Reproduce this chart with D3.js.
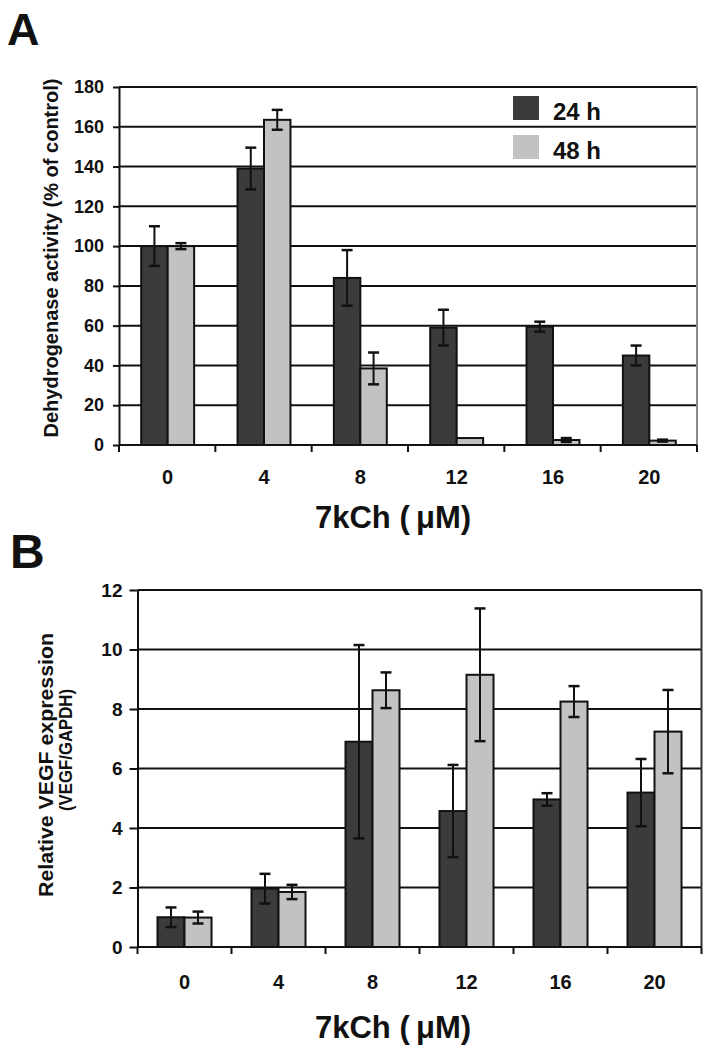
<!DOCTYPE html>
<html>
<head>
<meta charset="utf-8">
<script src="https://cdn.jsdelivr.net/npm/d3@7/dist/d3.min.js"></script>
<style>
  html, body { margin: 0; padding: 0; background: #fff; }
  svg { display: block; }
  text { font-family: "Liberation Sans", Arial, sans-serif; font-weight: bold; fill: #111; }
</style>
</head>
<body>
<svg id="chart" width="713" height="1050"></svg>
<script>
// ---------- data ----------
const categories = ["0", "4", "8", "12", "16", "20"];
const seriesNames = ["24 h", "48 h"];

// Panel A: dehydrogenase activity (% of control)
const activity24 = [100, 139, 84, 59, 59.5, 45];
const activity48 = [100, 163.5, 38.5, 3.5, 2.5, 2.2];
const activityErr24 = [10, 10.5, 14, 9, 2.5, 5];
const activityErr48 = [1.5, 5, 8, 0, 1, 0.5];
const activityTicks = [0, 20, 40, 60, 80, 100, 120, 140, 160, 180];

// Panel B: relative VEGF expression (VEGF/GAPDH)
const vegf24 = [1.0, 1.96, 6.9, 4.57, 4.96, 5.19];
const vegf48 = [0.99, 1.85, 8.63, 9.15, 8.25, 7.24];
const vegfErr24 = [0.33, 0.5, 3.25, 1.55, 0.21, 1.13];
const vegfErr48 = [0.2, 0.24, 0.6, 2.23, 0.52, 1.4];
const vegfTicks = [0, 2, 4, 6, 8, 10, 12];

const xTitle = "7kCh (\u2009\u03bcM)";
const colors = ["#3b3b3b", "#c2c2c2"];

const svg = d3.select("#chart");

function panel(opts) {
  const g = svg.append("g");
  const x0 = d3.scaleBand().domain(categories).range([opts.left, opts.right]).padding(0);
  const x1 = d3.scaleBand().domain(seriesNames).range([0, x0.bandwidth()]).paddingInner(0).paddingOuter(opts.outer);
  const y = d3.scaleLinear().domain([0, opts.ymax]).range([opts.bottom, opts.top]);

  // gridlines
  g.append("g").selectAll("line").data(opts.ticks.filter(t => t > 0)).join("line")
    .attr("x1", opts.left).attr("x2", opts.right)
    .attr("y1", d => y(d)).attr("y2", d => y(d))
    .attr("stroke", "#111").attr("stroke-width", 2);

  // right border
  g.append("line").attr("x1", opts.right).attr("x2", opts.right)
    .attr("y1", y(opts.ymax)).attr("y2", y(0))
    .attr("stroke", opts.borderColor).attr("stroke-width", 2);

  const rows = categories.map((c, i) => ({
    cat: c,
    vals: seriesNames.map((s, j) => ({ s, j, v: opts.values[j][i], e: opts.errors[j][i] }))
  }));

  // bars
  const grp = g.append("g").selectAll("g").data(rows).join("g")
    .attr("transform", d => `translate(${x0(d.cat) + opts.shift},0)`);
  grp.selectAll("rect").data(d => d.vals).join("rect")
    .attr("x", d => x1(d.s))
    .attr("width", x1.bandwidth())
    .attr("y", d => y(d.v))
    .attr("height", d => y(0) - y(d.v))
    .attr("fill", d => colors[d.j])
    .attr("stroke", "#111").attr("stroke-width", 2);

  // error bars
  const eb = grp.selectAll("g.err").data(d => d.vals.filter(v => v.e > 0)).join("g").attr("class", "err");
  const cx = d => x1(d.s) + x1.bandwidth() / 2;
  eb.append("line").attr("x1", cx).attr("x2", cx)
    .attr("y1", d => y(d.v + d.e)).attr("y2", d => y(d.v - d.e))
    .attr("stroke", "#111").attr("stroke-width", 2);
  eb.append("line").attr("x1", d => cx(d) - 5.5).attr("x2", d => cx(d) + 5.5)
    .attr("y1", d => y(d.v + d.e)).attr("y2", d => y(d.v + d.e))
    .attr("stroke", "#111").attr("stroke-width", 2.5);
  eb.append("line").attr("x1", d => cx(d) - 5.5).attr("x2", d => cx(d) + 5.5)
    .attr("y1", d => y(d.v - d.e)).attr("y2", d => y(d.v - d.e))
    .attr("stroke", "#111").attr("stroke-width", 2.5);

  // y axis
  const ya = g.append("g").attr("transform", `translate(${opts.left},0)`)
    .call(d3.axisLeft(y).tickValues(opts.ticks).tickSize(opts.ytick).tickPadding(opts.ypad).tickSizeOuter(0));
  ya.attr("font-size", null).attr("font-family", null);
  ya.select(".domain").attr("stroke", "#111").attr("stroke-width", 2);
  ya.selectAll(".tick line").attr("stroke", "#111").attr("stroke-width", 2);
  ya.selectAll(".tick text").style("font-size", opts.yFont + "px")
    .style("font-family", '"Liberation Sans", Arial, sans-serif').style("font-weight", "bold").attr("fill", "#111");

  // x axis line with boundary ticks
  g.append("line").attr("x1", opts.left).attr("x2", opts.right)
    .attr("y1", y(0)).attr("y2", y(0)).attr("stroke", "#111").attr("stroke-width", 2);
  const bounds = categories.map(c => x0(c)).concat([x0(categories[categories.length - 1]) + x0.bandwidth()]);
  g.append("g").selectAll("line").data(bounds).join("line")
    .attr("x1", d => d).attr("x2", d => d)
    .attr("y1", y(0)).attr("y2", y(0) + 7)
    .attr("stroke", "#111").attr("stroke-width", 2);

  // x labels
  g.append("g").selectAll("text").data(categories).join("text")
    .attr("x", d => x0(d) + x0.bandwidth() / 2 + opts.shift)
    .attr("y", opts.xLabelY)
    .attr("text-anchor", "middle")
    .style("font-size", opts.xFont + "px")
    .text(d => d);

  // x title
  g.append("text").attr("x", 393).attr("y", opts.xTitleY)
    .attr("text-anchor", "middle").style("font-size", "31px").text(xTitle);

  return { g, x0, x1, y };
}

// Panel A
const A = panel({
  left: 119, right: 697, top: 87, bottom: 445, ymax: 180, outer: 0.82, shift: 0.5,
  ticks: activityTicks, values: [activity24, activity48], errors: [activityErr24, activityErr48],
  borderColor: "#8a8a8a", ytick: 6, ypad: 9, yFont: 18, xFont: 20, xLabelY: 484, xTitleY: 528
});

// Panel A legend
const leg = svg.append("g").selectAll("g").data(seriesNames).join("g")
  .attr("transform", (d, i) => `translate(513, ${96 + i * 39})`);
leg.append("rect").attr("width", 26).attr("height", 24).attr("fill", (d, i) => colors[i]);
leg.append("text").attr("x", 40).attr("y", 24).style("font-size", "24px").text(d => d);

svg.append("text").attr("x", 7).attr("y", 45).style("font-size", "45px").text("A");
svg.append("text").attr("transform", "translate(58,258) rotate(-90)")
  .attr("text-anchor", "middle").style("font-size", "20px")
  .text("Dehydrogenase activity (% of control)");

// Panel B
const B = panel({
  left: 137.5, right: 701.5, top: 590, bottom: 947, ymax: 12, outer: 0.74, shift: 0,
  ticks: vegfTicks, values: [vegf24, vegf48], errors: [vegfErr24, vegfErr48],
  borderColor: "#333", ytick: 8, ypad: 7, yFont: 19, xFont: 20, xLabelY: 989, xTitleY: 1038
});

svg.append("text").attr("x", 10).attr("y", 568).style("font-size", "48px").text("B");
svg.append("text").attr("transform", "translate(53,765) rotate(-90)")
  .attr("text-anchor", "middle").style("font-size", "20px")
  .attr("textLength", 264).attr("lengthAdjust", "spacingAndGlyphs")
  .text("Relative VEGF expression");
svg.append("text").attr("transform", "translate(72,750) rotate(-90)")
  .attr("text-anchor", "middle").style("font-size", "19px")
  .attr("textLength", 122).attr("lengthAdjust", "spacingAndGlyphs")
  .text("(VEGF/GAPDH)");
</script>
</body>
</html>
